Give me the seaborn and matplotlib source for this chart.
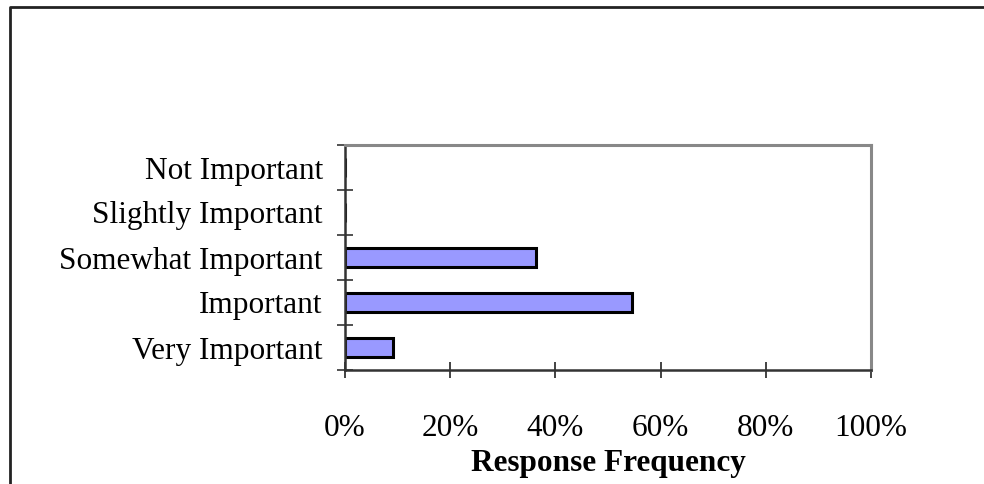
import matplotlib
matplotlib.use("Agg")
import matplotlib.pyplot as plt
import seaborn as sns
import pandas as pd
from matplotlib.lines import Line2D
from matplotlib.ticker import FixedLocator, PercentFormatter

categories = ["Not Important", "Slightly Important", "Somewhat Important", "Important", "Very Important"]
frequencies = [0.0, 0.0, 0.364, 0.545, 0.091]
x_ticks = [0, 0.2, 0.4, 0.6, 0.8, 1.0]

df = pd.DataFrame({"category": categories, "freq": frequencies})

sns.set_theme(style="white")
plt.rcParams["font.family"] = ["Liberation Serif", "DejaVu Serif"]
plt.rcParams["text.color"] = "black"
plt.rcParams["axes.labelcolor"] = "black"
plt.rcParams["xtick.color"] = "black"
plt.rcParams["ytick.color"] = "black"

fig = plt.figure(figsize=(9.84, 4.84), dpi=100)
ax = fig.add_axes([345 / 984, 1 - 370 / 484, 526 / 984, 225 / 484])

sns.barplot(data=df, x="freq", y="category", order=categories, orient="h",
            color="#9999FF", saturation=1, width=0.42, edgecolor="black",
            linewidth=2.2, ax=ax)

ax.set_xlim(0, 1)
ax.set_ylim(len(categories) - 0.5, -0.5)
ax.xaxis.set_major_locator(FixedLocator(x_ticks))
ax.xaxis.set_major_formatter(PercentFormatter(1.0, decimals=0))
ax.yaxis.set_minor_locator(FixedLocator([i - 0.5 for i in range(len(categories) + 1)]))

ax.tick_params(axis="x", which="major", direction="inout", length=11.5, width=1.2,
               color="#222222", labelcolor="black", labelsize=22.5, pad=26, bottom=True)
ax.tick_params(axis="y", which="major", length=0, labelsize=22.5, labelcolor="black",
               pad=16, left=True)
ax.tick_params(axis="y", which="minor", direction="inout", length=12, width=1.2,
               color="#333333", left=True)
ax.set_ylabel("")
ax.set_xlabel("Response Frequency", fontsize=22.5, fontweight="bold", labelpad=4.5,
              color="black")

for side in ["top", "right"]:
    ax.spines[side].set_visible(True)
    ax.spines[side].set_color("#888888")
    ax.spines[side].set_linewidth(2.2)
for side in ["left", "bottom"]:
    ax.spines[side].set_visible(True)
    ax.spines[side].set_color("#333333")
    ax.spines[side].set_linewidth(1.8)
ax.grid(False)

# outer figure border (cropped on right and bottom)
fig.add_artist(Line2D([9.5 / 984, 9.5 / 984, 1.0], [0.0, 1 - 6.5 / 484, 1 - 6.5 / 484],
                      transform=fig.transFigure, color="#222222", linewidth=2))

fig.savefig("out.png", dpi=100, facecolor="white")
